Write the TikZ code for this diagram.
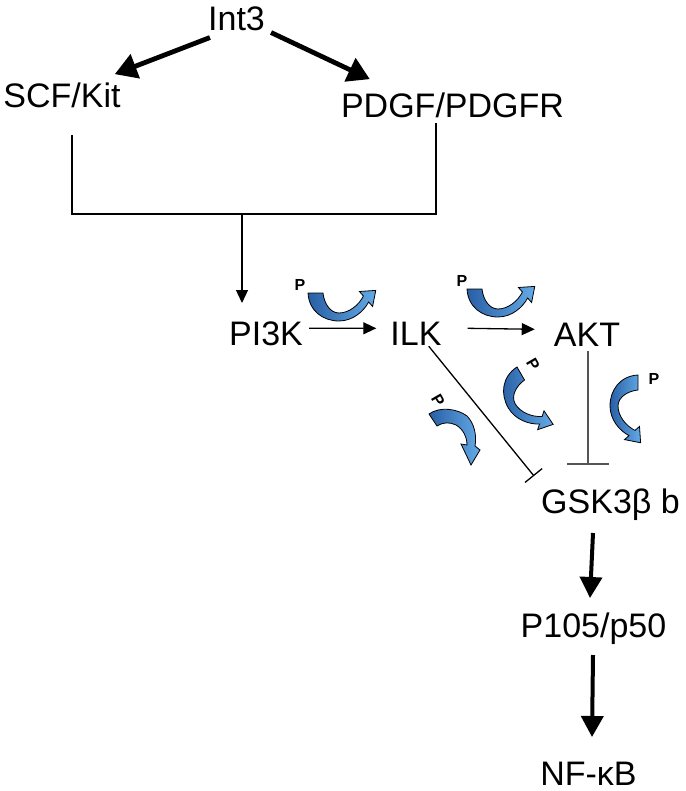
\documentclass[tikz,border=0pt]{standalone}
\usepackage{fontspec}
\setmainfont{Liberation Sans}
\usetikzlibrary{arrows.meta}
\definecolor{pdark}{RGB}{40,95,165}
\definecolor{plight}{RGB}{100,170,230}
\definecolor{inhgray}{RGB}{85,85,85}
\begin{document}
\begin{tikzpicture}[x=1pt,y=-1pt,
  lbl/.style={font=\fontsize{34}{36}\selectfont, inner sep=0pt, anchor=base},
  plbl/.style={font=\fontsize{16}{18}\selectfont\bfseries, inner sep=0pt},
  bigarrow/.style={line width=4.8pt, -{Triangle[length=22pt,width=25pt]}},
  medarrow/.style={line width=4pt, -{Triangle[length=21pt,width=22pt]}},
  thinline/.style={line width=1.3pt},
  thinarrow/.style={line width=1.3pt, -{Triangle[length=13pt,width=12pt]}},
  pfill/.style={draw=black, line width=0.8pt, left color=pdark, right color=plight},
  parr/.pic={\path[pfill] (0,0) .. controls (1,18) and (15,28) .. (31,28)
      .. controls (45,28) and (56,18) .. (60.6,9) -- (64.6,13.5) -- (67.75,-2.6)
      -- (51.4,-1.5) -- (55.4,3) .. controls (51,12) and (41,20) .. (31,20)
      .. controls (22,20) and (16,10) .. (15,0) -- cycle;}
]
\useasboundingbox (0,0) rectangle (685,791);

% main nodes
\node[lbl] (int3) at (236.5,31) {Int3};
\node[lbl] (scf) at (62,108) {SCF/Kit};
\node[lbl] (pdgf) at (452.5,118) {PDGF/PDGFR};
\node[lbl] (pi3k) at (266,345) {PI3K};
\node[lbl] (ilk) at (416,345) {ILK};
\node[lbl] (akt) at (587,346) {AKT};
\node[lbl] (gsk) at (610.5,513) {GSK3β b};
\node[lbl] (p105) at (593.5,637) {P105/p50};
\node[lbl] (nfkb) at (588.5,785) {NF-κB};

% Int3 arrows
\draw[bigarrow] ([xshift=2pt,yshift=-6pt]int3.south west) -- ([xshift=-6pt,yshift=9pt]scf.north east);
\draw[bigarrow] ([xshift=6pt,yshift=-1pt]int3.south east) -- ([xshift=29pt,yshift=14pt]pdgf.north west);

% bracket
\coordinate (bl) at (72,135);
\coordinate (bj) at (242,214);
\coordinate (br) at (436,123);
\coordinate (pt) at (242,303);
\draw[thinline] (bl) |- (bj) -| (br);
\draw[thinarrow] (bj) -- (pt);

% horizontal arrows
\draw[thinarrow] ([xshift=6pt,yshift=5pt]pi3k.east) -- ([xshift=-14pt,yshift=5pt]ilk.west);
\draw[thinarrow] ([xshift=26pt,yshift=5pt]ilk.east) -- ([xshift=-19pt,yshift=5pt]akt.west);

% inhibitions
\coordinate (ilkend) at (534,476);
\draw[thinline, -{Bar[width=22pt]}] ([xshift=-13pt,yshift=-1pt]ilk.south east) -- (ilkend);
\coordinate (aktend) at (587.5,465);
\draw[line width=2pt, draw=inhgray, -{Bar[width=42pt]}] ([xshift=0.5pt,yshift=-5pt]akt.south) -- (aktend);

% lower thick arrows
\coordinate (g1) at (593,533);
\coordinate (g2) at (590,598);
\draw[medarrow] (g1) -- (g2);
\coordinate (q1) at (593,655);
\coordinate (q2) at (592,737);
\draw[medarrow] (q1) -- (q2);

% phosphorylation arrows
\pic at (308,293) {parr};
\pic at (467,289) {parr};
\pic[rotate=-60] at (517,367) {parr};
\pic[rotate=-90] at (638,375) {parr};
\path[pfill] (429,414) .. controls (440,406) and (458,409) .. (467,416)
   .. controls (474,423) and (477,435) .. (475,446) -- (480,450) -- (471,465)
   -- (461,444) -- (467,445) .. controls (467,437) and (463,429) .. (456,425)
   .. controls (450,422) and (443,422) .. (437,426) -- cycle;

\node[plbl] (pa) at (300,285) {P};
\node[plbl] (pb) at (462,281) {P};
\node[plbl, rotate=-60] (pc) at (533,364) {P};
\node[plbl, rotate=-60] (pd) at (438,400) {P};
\node[plbl] (pe) at (654,379) {P};
\end{tikzpicture}
\end{document}
